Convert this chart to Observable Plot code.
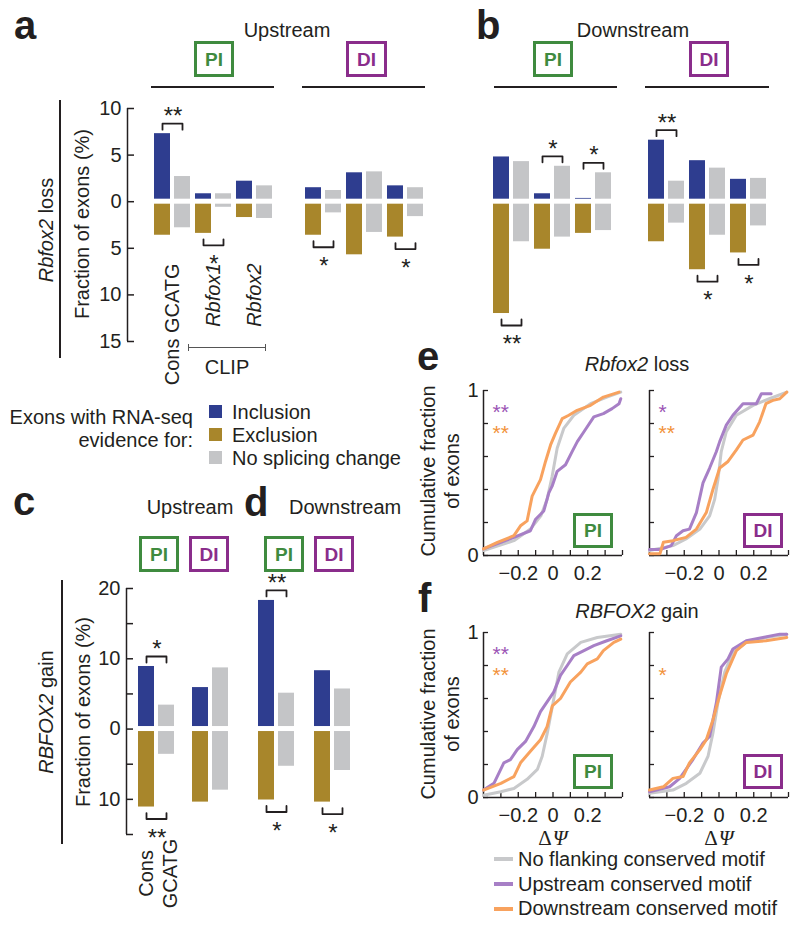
<!DOCTYPE html>
<html><head><meta charset="utf-8">
<script src="https://cdn.jsdelivr.net/npm/d3@7"></script>
<script src="https://cdn.jsdelivr.net/npm/@observablehq/plot@0.6"></script>
<style>
html,body{margin:0;padding:0;background:#fff;}
#fig{position:relative;width:800px;height:927px;overflow:hidden;font-family:"Liberation Sans",Arial,Helvetica,sans-serif;color:#231f20;}
.t{position:absolute;white-space:nowrap;}
.box{position:absolute;box-sizing:border-box;border:3px solid;display:flex;align-items:center;justify-content:center;font-weight:bold;font-size:19px;line-height:19px;}
.ln{position:absolute;}
</style></head><body><div id="fig"></div>
<script>
// ---------------- DATA ----------------
const motifsAB = ["Cons GCATG", "Rbfox1", "Rbfox2"];
const motifsCD = ["Cons GCATG"];
const evidence = ["Inclusion", "Exclusion", "No splicing change"];

// Panel a (upstream), Rbfox2 loss
const aPI_inclusion = [7.3, 0.85, 2.2];
const aPI_noChangeUp = [2.7, 0.85, 1.7];
const aPI_exclusion = [3.6, 3.4, 1.7];
const aPI_noChangeDown = [2.8, 0.6, 1.8];
const aDI_inclusion = [1.5, 3.1, 1.7];
const aDI_noChangeUp = [1.2, 3.2, 1.5];
const aDI_exclusion = [3.6, 5.7, 3.8];
const aDI_noChangeDown = [1.2, 3.3, 1.6];
// Panel b (downstream), Rbfox2 loss
const bPI_inclusion = [4.8, 0.85, 0.35];
const bPI_noChangeUp = [4.3, 3.8, 3.1];
const bPI_exclusion = [12.0, 5.1, 3.4];
const bPI_noChangeDown = [4.3, 3.8, 3.1];
const bDI_inclusion = [6.6, 4.4, 2.4];
const bDI_noChangeUp = [2.2, 3.6, 2.5];
const bDI_exclusion = [4.3, 7.3, 5.5];
const bDI_noChangeDown = [2.3, 3.6, 2.6];
// Panel c (upstream) and d (downstream), RBFOX2 gain
const cPI_inclusion = [8.9], cPI_noChangeUp = [3.4], cPI_exclusion = [11.1], cPI_noChangeDown = [3.6];
const cDI_inclusion = [5.9], cDI_noChangeUp = [8.7], cDI_exclusion = [10.4], cDI_noChangeDown = [8.7];
const dPI_inclusion = [18.3], dPI_noChangeUp = [5.1], dPI_exclusion = [10.1], dPI_noChangeDown = [5.3];
const dDI_inclusion = [8.3], dDI_noChangeUp = [5.7], dDI_exclusion = [10.4], dDI_noChangeDown = [5.9];

// significance marks
const aPI_sig = [{motif: "Cons GCATG", side: "up", stars: "**"}, {motif: "Rbfox1", side: "down", stars: "*"}];
const aDI_sig = [{motif: "Cons GCATG", side: "down", stars: "*"}, {motif: "Rbfox2", side: "down", stars: "*"}];
const bPI_sig = [{motif: "Cons GCATG", side: "down", stars: "**"}, {motif: "Rbfox1", side: "up", stars: "*"}, {motif: "Rbfox2", side: "up", stars: "*"}];
const bDI_sig = [{motif: "Cons GCATG", side: "up", stars: "**"}, {motif: "Rbfox1", side: "down", stars: "*"}, {motif: "Rbfox2", side: "down", stars: "*"}];
const cPI_sig = [{motif: "Cons GCATG", side: "up", stars: "*"}, {motif: "Cons GCATG", side: "down", stars: "**"}];
const cDI_sig = [];
const dPI_sig = [{motif: "Cons GCATG", side: "up", stars: "**"}, {motif: "Cons GCATG", side: "down", stars: "*"}];
const dDI_sig = [{motif: "Cons GCATG", side: "down", stars: "*"}];

// axis ticks
const abTicks = [10, 5, 0, -5, -10, -15];
const abTickLabels = [10, 5, 0, -5, -10, -15];
const cdTicks = [20, 15, 10, 5, 0, -5, -10, -15];
const cdTickLabels = [20, 10, 0, -10];

// CDF panels (delta PSI, cumulative fraction)
const cdfSeries = ["No flanking conserved motif", "Upstream conserved motif", "Downstream conserved motif"];
const ePI_none = [[-0.40,0.03],[-0.225,0.09],[-0.13,0.16],[-0.07,0.24],[-0.034,0.34],[-0.005,0.48],[0.024,0.65],[0.062,0.77],[0.12,0.85],[0.216,0.92],[0.31,0.96],[0.39,0.99]];
const ePI_up = [[-0.40,0.04],[-0.30,0.08],[-0.225,0.11],[-0.13,0.15],[-0.10,0.22],[-0.053,0.27],[-0.024,0.38],[-0.005,0.42],[0.024,0.51],[0.072,0.55],[0.11,0.63],[0.14,0.69],[0.178,0.75],[0.235,0.84],[0.29,0.86],[0.34,0.89],[0.38,0.92],[0.39,0.95]];
const ePI_down = [[-0.40,0.04],[-0.32,0.08],[-0.225,0.12],[-0.187,0.18],[-0.149,0.21],[-0.12,0.36],[-0.072,0.46],[-0.043,0.57],[-0.014,0.67],[0.014,0.74],[0.053,0.83],[0.091,0.85],[0.139,0.88],[0.216,0.91],[0.29,0.96],[0.38,0.99]];
const eDI_none = [[-0.40,0.03],[-0.265,0.06],[-0.19,0.10],[-0.11,0.16],[-0.054,0.24],[-0.025,0.34],[-0.006,0.46],[0.013,0.63],[0.042,0.75],[0.10,0.85],[0.196,0.91],[0.29,0.95],[0.39,0.99]];
const eDI_up = [[-0.40,0.036],[-0.34,0.036],[-0.275,0.06],[-0.245,0.12],[-0.207,0.15],[-0.17,0.16],[-0.13,0.26],[-0.092,0.44],[-0.054,0.53],[-0.015,0.63],[0.004,0.69],[0.042,0.79],[0.08,0.85],[0.138,0.92],[0.215,0.92],[0.244,0.98],[0.30,0.98]];
const eDI_down = [[-0.40,0.01],[-0.34,0.01],[-0.32,0.08],[-0.265,0.09],[-0.19,0.11],[-0.13,0.16],[-0.073,0.26],[-0.035,0.40],[0.004,0.53],[0.052,0.57],[0.10,0.64],[0.138,0.70],[0.196,0.73],[0.234,0.81],[0.27,0.92],[0.31,0.94],[0.35,0.95],[0.39,0.99]];
const fPI_none = [[-0.40,0.014],[-0.30,0.035],[-0.225,0.055],[-0.149,0.11],[-0.09,0.17],[-0.062,0.25],[-0.033,0.39],[-0.004,0.55],[0.034,0.76],[0.082,0.87],[0.16,0.94],[0.255,0.97],[0.39,0.99]];
const fPI_up = [[-0.40,0.045],[-0.34,0.086],[-0.283,0.21],[-0.245,0.23],[-0.206,0.29],[-0.158,0.34],[-0.11,0.43],[-0.072,0.52],[-0.034,0.58],[0.005,0.64],[0.043,0.74],[0.082,0.80],[0.12,0.86],[0.178,0.89],[0.235,0.92],[0.31,0.95],[0.39,0.98]];
const fPI_down = [[-0.40,0.045],[-0.30,0.086],[-0.225,0.127],[-0.187,0.21],[-0.13,0.28],[-0.072,0.35],[-0.034,0.43],[-0.004,0.555],[0.043,0.60],[0.10,0.70],[0.16,0.76],[0.197,0.81],[0.255,0.84],[0.29,0.89],[0.35,0.94],[0.39,0.96]];
const fDI_none = [[-0.40,0.025],[-0.265,0.045],[-0.188,0.086],[-0.11,0.147],[-0.063,0.25],[-0.035,0.39],[-0.006,0.575],[0.033,0.76],[0.08,0.88],[0.157,0.94],[0.27,0.97],[0.39,0.99]];
const fDI_up = [[-0.40,0.035],[-0.284,0.065],[-0.226,0.116],[-0.15,0.23],[-0.092,0.33],[-0.054,0.37],[-0.015,0.575],[0.013,0.79],[0.052,0.84],[0.08,0.90],[0.157,0.95],[0.253,0.97],[0.35,0.99],[0.39,0.99]];
const fDI_down = [[-0.40,0.045],[-0.32,0.065],[-0.265,0.116],[-0.207,0.127],[-0.17,0.21],[-0.11,0.29],[-0.073,0.35],[-0.035,0.47],[0.004,0.62],[0.042,0.75],[0.10,0.89],[0.157,0.94],[0.27,0.95],[0.39,0.97]];
const eStars = [{panel: "PI", series: "up", text: "**"}, {panel: "PI", series: "down", text: "**"}, {panel: "DI", series: "up", text: "*"}, {panel: "DI", series: "down", text: "**"}];
const fStars = [{panel: "PI", series: "up", text: "**"}, {panel: "PI", series: "down", text: "**"}, {panel: "DI", series: "down", text: "*"}];
const cdfXDomain = [-0.4, 0.4];
const cdfXTicks = [-0.3, -0.2, -0.1, 0, 0.1, 0.2, 0.3, 0.4];
const cdfXTickLabels = [-0.2, 0, 0.2];
const cdfYTicks = [0, 0.2, 0.4, 0.6, 0.8, 1];
const cdfYTickLabels = [0, 1];

// ---------------- STYLE ----------------
const FONT = '"Liberation Sans", Arial, Helvetica, sans-serif';
const INK = "#231f20";
const evidenceColors = ["#2e3d8f", "#a8862b", "#c4c5c7"];
const cdfColors = ["#c8c9cb", "#a77fc6", "#f8a25e"];
const starPurple = "#9b55b5", starOrange = "#f2923a";
const GREEN = "#3f8b3f", PURPLE = "#8a2d8b";
const plotStyle = {fontFamily: FONT, fontSize: "20px", color: INK, background: "transparent", overflow: "visible"};

const fig = document.getElementById("fig");
function place(el, left, top) {
  el.style.position = "absolute";
  el.style.left = left + "px";
  el.style.top = top + "px";
  el.style.maxWidth = "none";
  fig.appendChild(el);
}

// ---------------- BAR GROUP CHART ----------------
function barGroup(o) {
  const {motifs, incl, upNo, excl, downNo, sig, yDomain, frameH, marginBottom, labelMode} = o;
  const ppu = frameH / (yDomain[1] - yDomain[0]);
  const up = [], down = [];
  motifs.forEach((m, i) => {
    up.push({motif: m, slot: "A", kind: evidence[0], v: incl[i]});
    up.push({motif: m, slot: "B", kind: evidence[2], v: upNo[i]});
    down.push({motif: m, slot: "A", kind: evidence[1], v: -excl[i]});
    down.push({motif: m, slot: "B", kind: evidence[2], v: -downNo[i]});
  });
  const brackets = [], starsUp = [], starsDown = [];
  sig.forEach((s, k) => {
    const i = motifs.indexOf(s.motif);
    const isUp = s.side === "up";
    const yb = isUp ? Math.max(incl[i], upNo[i]) + 10 / ppu : -Math.max(excl[i], downNo[i]) - 12 / ppu;
    const yt = isUp ? yb - 6 / ppu : yb + 6 / ppu;
    for (const [slot, y] of [["A", yt], ["A", yb], ["B", yb], ["B", yt]]) brackets.push({id: k, motif: s.motif, slot, y});
    (isUp ? starsUp : starsDown).push({motif: s.motif, y: yb, stars: s.stars});
  });
  const marks = [
    Plot.barY(up, {fx: "motif", x: "slot", y1: 0, y2: "v", fill: "kind", insetBottom: 2.5}),
    Plot.barY(down, {fx: "motif", x: "slot", y1: 0, y2: "v", fill: "kind", insetTop: 2.5}),
    Plot.line(brackets, {fx: "motif", x: "slot", y: "y", z: "id", stroke: INK, strokeWidth: 1.8}),
    Plot.text(starsUp, {fx: "motif", y: "y", text: "stars", dy: -7, fontSize: 24, lineAnchor: "middle"}),
    Plot.text(starsDown, {fx: "motif", y: "y", text: "stars", dy: 19, fontSize: 24, lineAnchor: "middle"})
  ];
  if (labelMode === "a") {
    const labelTop = yDomain[0] + 78 / ppu;  // level where the rotated labels end
    marks.push(Plot.text(motifs.filter(m => !m.startsWith("Rbfox")), {fx: d => d, text: d => d, y: () => labelTop, rotate: -90, textAnchor: "end", lineAnchor: "middle", fontSize: 20}));
    marks.push(Plot.text(motifs.filter(m => m.startsWith("Rbfox")), {fx: d => d, text: d => d, y: () => labelTop, rotate: -90, textAnchor: "end", lineAnchor: "middle", fontSize: 20, fontStyle: "italic"}));
  } else if (labelMode === "c") {
    marks.push(Plot.text(motifs, {fx: d => d, text: d => d.replace(" ", "\n"), frameAnchor: "bottom", dy: 39, rotate: -90, textAnchor: "middle", lineAnchor: "middle", lineHeight: 1.25, fontSize: 20}));
  }
  return Plot.plot({
    width: motifs.length * 41.4, height: 10 + frameH + marginBottom,
    marginTop: 10, marginBottom, marginLeft: 0, marginRight: 0,
    style: plotStyle,
    fx: {domain: motifs, padding: 0, axis: null, label: null},
    x: {domain: ["A", "B"], paddingInner: 0.18, paddingOuter: 0.09, axis: null},
    y: {domain: yDomain, axis: null},
    color: {domain: evidence, range: evidenceColors},
    marks
  });
}

function axisChart({yDomain, ticks, labels, frameH, marginBottom}) {
  return Plot.plot({
    width: 48, height: 10 + frameH + marginBottom,
    marginTop: 10, marginBottom, marginLeft: 40, marginRight: 1,
    style: plotStyle,
    x: {domain: [0, 1], axis: null},
    y: {domain: yDomain, ticks: labels, tickFormat: d => String(Math.abs(d)), tickSize: 0, tickPadding: 6, label: null},
    marks: [
      Plot.ruleX([0], {y1: yDomain[0], y2: yDomain[1], stroke: INK, strokeWidth: 1.5}),
      Plot.tickY(ticks, {y: d => d, stroke: INK, strokeWidth: 1.5})
    ]
  });
}

// ---------------- CDF CHART ----------------
function cdfChart({panels, stars, marginBottom, delta}) {
  const rows = [];
  for (const [panel, arrs] of Object.entries(panels)) arrs.forEach((arr, s) => arr.forEach(([x, y]) => rows.push({panel, series: cdfSeries[s], x, y})));
  const frameH = 165, facetW = 139;
  const marks = [
    Plot.ruleX([cdfXDomain[0]], {y1: 0, y2: 1, stroke: INK, strokeWidth: 1.5}),
    Plot.ruleY([0], {x1: cdfXDomain[0], x2: cdfXDomain[1], stroke: INK, strokeWidth: 1.5}),
    Plot.tickX(cdfXTicks, {x: d => d, insetTop: frameH - 5, stroke: INK, strokeWidth: 1.3}),
    Plot.tickY(cdfYTicks, {y: d => d, insetRight: facetW - 5, stroke: INK, strokeWidth: 1.3}),
    Plot.line(rows, {fx: "panel", x: "x", y: "y", z: "series", stroke: "series", strokeWidth: 3, strokeLinejoin: "round"}),
    Plot.text(stars.filter(s => s.series === "up"), {fx: "panel", text: "text", frameAnchor: "top-left", dx: 9, dy: 22, textAnchor: "start", lineAnchor: "middle", fontSize: 21, fill: starPurple}),
    Plot.text(stars.filter(s => s.series === "down"), {fx: "panel", text: "text", frameAnchor: "top-left", dx: 9, dy: 43, textAnchor: "start", lineAnchor: "middle", fontSize: 21, fill: starOrange})
  ];
  if (delta) {
    marks.push(Plot.text(["Δ"], {frameAnchor: "bottom", dy: 41, dx: -8, lineAnchor: "middle", fontSize: 21, fontFamily: '"Liberation Serif", "DejaVu Serif", serif'}));
    marks.push(Plot.text(["Ψ"], {frameAnchor: "bottom", dy: 41, dx: 7, lineAnchor: "middle", fontSize: 21, fontStyle: "italic", fontFamily: '"Liberation Serif", "DejaVu Serif", serif'}));
  }
  return Plot.plot({
    width: 30 + 305 + 12, height: 10 + frameH + marginBottom,
    marginTop: 10, marginBottom, marginLeft: 30, marginRight: 12,
    style: plotStyle,
    fx: {domain: ["PI", "DI"], paddingInner: 0.1627, paddingOuter: 0, axis: null, label: null},
    x: {domain: cdfXDomain, ticks: cdfXTickLabels, tickFormat: d3.format("~g"), tickSize: 0, tickPadding: 10, label: null},
    y: {domain: [0, 1], ticks: cdfYTickLabels, tickFormat: d3.format("~g"), tickSize: 0, tickPadding: 5, label: null},
    color: {domain: cdfSeries, range: cdfColors},
    marks
  });
}

// ---------------- BUILD CHARTS ----------------
const AB = {yDomain: [-15, 10], frameH: 233, marginBottom: 60};
const CD = {yDomain: [-15, 20], frameH: 246, marginBottom: 90};

place(axisChart({...AB, ticks: abTicks, labels: abTickLabels}), 86.5, 98);
place(barGroup({...AB, motifs: motifsAB, incl: aPI_inclusion, upNo: aPI_noChangeUp, excl: aPI_exclusion, downNo: aPI_noChangeDown, sig: aPI_sig, labelMode: "a"}), 150.6, 98);
place(barGroup({...AB, motifs: motifsAB, incl: aDI_inclusion, upNo: aDI_noChangeUp, excl: aDI_exclusion, downNo: aDI_noChangeDown, sig: aDI_sig}), 301.6, 98);
place(barGroup({...AB, motifs: motifsAB, incl: bPI_inclusion, upNo: bPI_noChangeUp, excl: bPI_exclusion, downNo: bPI_noChangeDown, sig: bPI_sig}), 489.6, 98);
place(barGroup({...AB, motifs: motifsAB, incl: bDI_inclusion, upNo: bDI_noChangeUp, excl: bDI_exclusion, downNo: bDI_noChangeDown, sig: bDI_sig}), 644.6, 98);

place(axisChart({...CD, ticks: cdTicks, labels: cdTickLabels}), 86, 578);
place(barGroup({...CD, motifs: motifsCD, incl: cPI_inclusion, upNo: cPI_noChangeUp, excl: cPI_exclusion, downNo: cPI_noChangeDown, sig: cPI_sig, labelMode: "c"}), 135.6, 578);
place(barGroup({...CD, motifs: motifsCD, incl: cDI_inclusion, upNo: cDI_noChangeUp, excl: cDI_exclusion, downNo: cDI_noChangeDown, sig: cDI_sig}), 189.6, 578);
place(barGroup({...CD, motifs: motifsCD, incl: dPI_inclusion, upNo: dPI_noChangeUp, excl: dPI_exclusion, downNo: dPI_noChangeDown, sig: dPI_sig}), 255.6, 578);
place(barGroup({...CD, motifs: motifsCD, incl: dDI_inclusion, upNo: dDI_noChangeUp, excl: dDI_exclusion, downNo: dDI_noChangeDown, sig: dDI_sig}), 311.6, 578);

place(cdfChart({panels: {PI: [ePI_none, ePI_up, ePI_down], DI: [eDI_none, eDI_up, eDI_down]}, stars: eStars, marginBottom: 40}), 453, 380);
place(cdfChart({panels: {PI: [fPI_none, fPI_up, fPI_down], DI: [fDI_none, fDI_up, fDI_down]}, stars: fStars, marginBottom: 60, delta: true}), 453, 622);

// ---------------- ANNOTATIONS ----------------
function txt(html, x, baseline, {size = 20, weight = "normal", anchor = "start", color = INK} = {}) {
  const d = document.createElement("div");
  d.className = "t";
  d.innerHTML = html;
  d.style.left = x + "px";
  d.style.top = (baseline - 0.8465 * size) + "px";
  d.style.fontSize = size + "px";
  d.style.lineHeight = size + "px";
  d.style.fontWeight = weight;
  d.style.color = color;
  if (anchor === "middle") d.style.transform = "translateX(-50%)";
  if (anchor === "end") d.style.transform = "translateX(-100%)";
  fig.appendChild(d);
}
function rot(html, cx, cy, {size = 20, lh = size} = {}) {
  const d = document.createElement("div");
  d.className = "t";
  d.innerHTML = html;
  d.style.left = cx + "px";
  d.style.top = cy + "px";
  d.style.fontSize = size + "px";
  d.style.lineHeight = lh + "px";
  d.style.textAlign = "center";
  d.style.transform = "translate(-50%,-50%) rotate(-90deg)";
  fig.appendChild(d);
}
function rect(x, y, w, h, color) {
  const d = document.createElement("div");
  d.className = "ln";
  d.style.cssText += `left:${x}px;top:${y}px;width:${w}px;height:${h}px;background:${color};`;
  fig.appendChild(d);
}
function box(label, x, y, w, h, color) {
  const d = document.createElement("div");
  d.className = "box";
  d.textContent = label;
  d.style.cssText += `left:${x}px;top:${y}px;width:${w}px;height:${h}px;border-color:${color};color:${color};`;
  fig.appendChild(d);
}

// panel letters
for (const [l, x, b] of [["a", 14, 39], ["b", 476, 39], ["c", 13, 515], ["d", 244, 516], ["e", 417, 370], ["f", 418, 612]]) txt(l, x, b, {size: 40, weight: "bold"});

// a / b headers
txt("Upstream", 287, 37, {anchor: "middle"});
txt("Downstream", 633, 37, {anchor: "middle"});
box("PI", 194, 41, 40, 36, GREEN); box("DI", 346, 41, 41, 36, PURPLE);
box("PI", 533, 41, 40, 36, GREEN); box("DI", 689, 41, 40, 36, PURPLE);
for (const [x1, x2] of [[151, 274], [302, 425], [494, 617], [645, 769]]) rect(x1, 86, x2 - x1, 2, INK);
rect(59, 100, 2, 258, INK);
rot("<i>Rbfox2</i> loss", 46, 230);
rot("Fraction of exons (%)", 82, 224);
// CLIP bracket
rect(188, 347, 78, 1.3, "#555"); rect(188, 344, 1.3, 7, "#555"); rect(265, 344, 1.3, 7, "#555");
txt("CLIP", 227, 374, {anchor: "middle"});

// bar legend
txt("Exons with RNA-seq", 193, 424, {anchor: "end"});
txt("evidence for:", 193, 447, {anchor: "end"});
evidence.forEach((e, i) => { rect(209, 405 + 23 * i, 13, 13, evidenceColors[i]); txt(e, 232, 419 + 23 * i); });

// c / d headers
txt("Upstream", 190, 514, {anchor: "middle"});
txt("Downstream", 289, 514);
box("PI", 139, 536, 40, 36, GREEN); box("DI", 189, 536, 40, 36, PURPLE);
box("PI", 264, 536, 40, 36, GREEN); box("DI", 314, 536, 40, 36, PURPLE);
rect(61, 580, 2, 264, INK);
rot("<i>RBFOX2</i> gain", 46, 712);
rot("Fraction of exons (%)", 83, 712);

// e / f
txt("<i>Rbfox2</i> loss", 637, 371, {anchor: "middle"});
txt("<i>RBFOX2</i> gain", 637, 618, {anchor: "middle"});
rot("Cumulative fraction<br>of exons", 440, 471, {lh: 24});
rot("Cumulative fraction<br>of exons", 440, 714, {lh: 24});
box("PI", 573, 513, 40, 35, GREEN); box("DI", 743, 513, 40, 35, PURPLE);
box("PI", 573, 754, 40, 35, GREEN); box("DI", 743, 754, 40, 35, PURPLE);
cdfSeries.forEach((s, i) => { rect(494, 857 + 25 * i, 19, 3.5, cdfColors[i]); txt(s, 518, 866 + 24.5 * i); });
</script></body></html>
